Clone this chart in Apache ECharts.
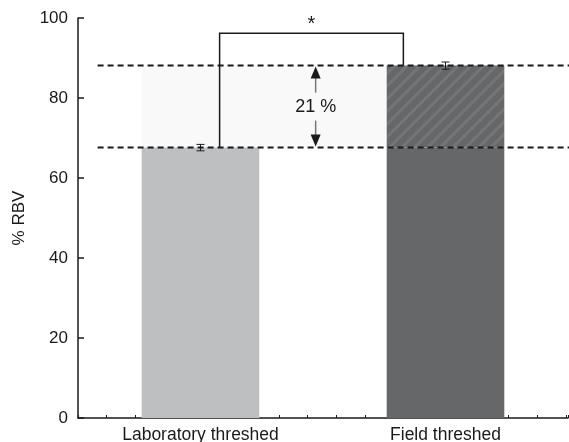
<!DOCTYPE html>
<html>
<head>
<meta charset="utf-8">
<script src="https://cdn.jsdelivr.net/npm/echarts@6/dist/echarts.min.js"></script>
<style>
  html, body { margin: 0; padding: 0; background: #fff; }
  #main { width: 569px; height: 442px; }
</style>
</head>
<body>
<div id="main"></div>
<script>
  // data
  const categories = ['Laboratory threshed', 'Field threshed']
  const means = [67.6, 88.1] // % RBV
  const errors = [0.8, 0.9]
  const barColors = ['#bebfc1', '#666769']
  const yTicks = [0, 20, 40, 60, 80, 100]
  const diffLabel = '21 %'
  const sigLabel = '*'
  const bracketTop = 96.2

  const font = "'Liberation Sans', Arial, Helvetica, sans-serif"
  const ink = '#1a1a1a'

  // light band between the two means, behind the bars
  function renderBand(params, api) {
    const band = api.size([1, 0])[0]
    const x0 = api.coord([0, means[0]])[0] - band * 0.24
    const x1 = api.coord([1, means[0]])[0] - band * 0.24
    const yLo = api.coord([0, means[0]])[1]
    const yHi = api.coord([0, means[1]])[1]
    return {
      type: 'rect',
      shape: { x: x0, y: yHi, width: x1 - x0, height: yLo - yHi },
      style: { fill: '#f9f9f9' }
    }
  }

  // error bars, dashed reference lines, bracket, arrow and texts
  function renderNotes(params, api) {
    const band = api.size([1, 0])[0]
    const c0 = api.coord([0, means[0]])
    const c1 = api.coord([1, means[1]])
    const yLab = c0[1]
    const yField = c1[1]
    const children = []

    // dashed lines at both means
    const dashLeft = c0[0] - band * 0.42
    const dashRight = c1[0] + band * 0.51
    ;[yField, yLab].forEach(y => {
      children.push({
        type: 'line',
        shape: { x1: dashLeft, y1: y, x2: dashRight, y2: y },
        style: { stroke: ink, lineWidth: 2, lineDash: [6, 4] }
      })
    })

    // error bars
    means.forEach((m, i) => {
      const top = api.coord([i, m + errors[i]])
      const bot = api.coord([i, m - errors[i]])
      children.push(
        { type: 'line', shape: { x1: top[0], y1: top[1], x2: bot[0], y2: bot[1] }, style: { stroke: ink, lineWidth: 1 } },
        { type: 'line', shape: { x1: top[0] - 4, y1: top[1], x2: top[0] + 4, y2: top[1] }, style: { stroke: ink, lineWidth: 1 } },
        { type: 'line', shape: { x1: bot[0] - 4, y1: bot[1], x2: bot[0] + 4, y2: bot[1] }, style: { stroke: ink, lineWidth: 1 } }
      )
    })

    // significance bracket
    const bl = c0[0] + band * 0.078
    const br = c1[0] - band * 0.172
    const bt = api.coord([0, bracketTop])[1]
    children.push({
      type: 'polyline',
      shape: { points: [[bl, yLab], [bl, bt], [br, bt], [br, yField]] },
      style: { stroke: ink, lineWidth: 1.5, fill: null }
    })
    children.push({
      type: 'text',
      style: {
        x: (bl + br) / 2, y: bt + 1, text: sigLabel, fill: ink,
        font: '20px ' + font, align: 'center', verticalAlign: 'bottom'
      }
    })

    // double arrow with the difference
    const ax = (c0[0] + c1[0]) / 2 - band * 0.03
    const mid = (yLab + yField) / 2
    const head = 12
    children.push(
      { type: 'line', shape: { x1: ax, y1: yField + head, x2: ax, y2: mid - 14 }, style: { stroke: '#777', lineWidth: 1.5 } },
      { type: 'line', shape: { x1: ax, y1: mid + 14, x2: ax, y2: yLab - head }, style: { stroke: '#777', lineWidth: 1.5 } },
      { type: 'polygon', shape: { points: [[ax, yField + 1], [ax - 5, yField + head + 1], [ax + 5, yField + head + 1]] }, style: { fill: ink } },
      { type: 'polygon', shape: { points: [[ax, yLab - 1], [ax - 5, yLab - head - 1], [ax + 5, yLab - head - 1]] }, style: { fill: ink } },
      {
        type: 'text',
        style: {
          x: ax, y: mid, text: diffLabel, fill: ink,
          font: '18px ' + font, align: 'center', verticalAlign: 'middle'
        }
      }
    )

    return { type: 'group', children: children }
  }

  const option = {
    animation: false,
    grid: { left: 78, right: 1, top: 18, bottom: 24, outerBoundsMode: 'none', containLabel: false },
    xAxis: [
      {
        type: 'category',
        data: categories,
        axisLine: { lineStyle: { color: ink, width: 1.5 } },
        axisTick: { inside: true, length: 6, lineStyle: { color: ink, width: 1.5 } },
        axisLabel: { color: ink, fontSize: 17.5, fontFamily: font, margin: 8 }
      },
      {
        // minor ticks only
        type: 'value',
        position: 'bottom',
        min: -0.5,
        max: 16.57,
        interval: 1,
        axisLine: { show: false, onZero: false },
        axisLabel: { show: false },
        splitLine: { show: false },
        axisTick: { inside: true, length: 3, lineStyle: { color: ink, width: 1 } }
      }
    ],
    yAxis: {
      type: 'value',
      min: yTicks[0],
      max: yTicks[yTicks.length - 1],
      interval: yTicks[1] - yTicks[0],
      name: '% RBV',
      nameLocation: 'middle',
      nameGap: 50,
      nameTextStyle: { color: ink, fontSize: 17, fontFamily: font },
      axisLine: { show: true, onZero: false, lineStyle: { color: ink, width: 1.5 } },
      axisTick: { show: true, inside: true, length: 6, lineStyle: { color: ink, width: 1.5 } },
      axisLabel: { color: ink, fontSize: 17, fontFamily: font, margin: 10 },
      splitLine: { show: false }
    },
    series: [
      {
        type: 'custom',
        z: 1,
        renderItem: renderBand,
        data: [[0, means[0]]],
        silent: true
      },
      {
        name: 'base',
        type: 'bar',
        stack: 'rbv',
        z: 2,
        barWidth: '48%',
        data: means.map((v, i) => ({
          value: Math.min(v, means[0]),
          itemStyle: { color: barColors[i] }
        }))
      },
      {
        name: 'gain',
        type: 'bar',
        stack: 'rbv',
        z: 2,
        barWidth: '48%',
        data: ['-', means[1] - means[0]],
        itemStyle: {
          color: barColors[1],
          decal: {
            symbol: 'rect',
            symbolSize: 1,
            dashArrayX: [1, 0],
            dashArrayY: [3, 6],
            rotation: -Math.PI / 4,
            color: 'rgba(255,255,255,0.09)'
          }
        }
      },
      {
        type: 'custom',
        z: 5,
        renderItem: renderNotes,
        data: [[0, means[0]]],
        silent: true,
        clip: false
      }
    ]
  }

  const myChart = echarts.init(document.getElementById('main'))
  myChart.setOption(option)
</script>
</body>
</html>
